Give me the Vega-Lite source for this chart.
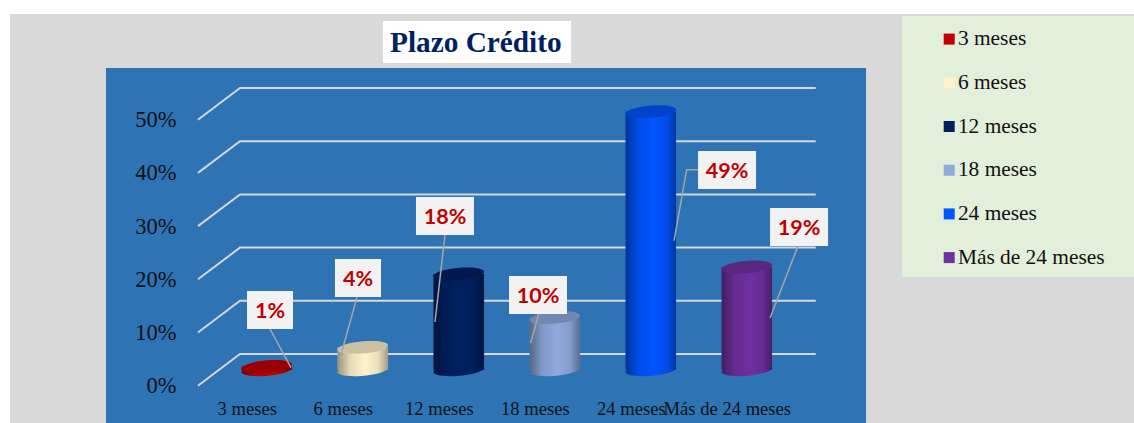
{
"$schema":"https://vega.github.io/schema/vega-lite/v6.json",
"width":1134,"height":423,"padding":0,"autosize":{"type":"none"},"background":"white",
"config":{"view":{"stroke":null}},
"title":{"text":"Plazo Crédito","anchor":"start","dx":390,"offset":-58,"font":"Liberation Serif","fontSize":29.3,"fontWeight":"bold","color":"#002060"},
"resolve":{"axis":{"x":"independent","y":"independent"}},
"datasets":{
"plazos":[
{"plazo":"3 meses","pos":1,"etiqueta":"1%","base":3,"tope":3.6,"cx":1.033,"cy":14.23,"bx0":0.794,"bx1":1.273,"by0":10.66,"by1":17.8},
{"plazo":"6 meses","pos":2,"etiqueta":"4%","base":3,"tope":7.2,"cx":1.95,"cy":20.24,"bx0":1.71,"bx1":2.19,"by0":16.67,"by1":23.82},
{"plazo":"12 meses","pos":3,"etiqueta":"18%","base":3,"tope":21,"cx":2.856,"cy":31.9,"bx0":2.554,"bx1":3.158,"by0":28.33,"by1":35.47},
{"plazo":"18 meses","pos":4,"etiqueta":"10%","base":3,"tope":12.8,"cx":3.825,"cy":17.05,"bx0":3.523,"bx1":4.127,"by0":13.48,"by1":20.62},
{"plazo":"24 meses","pos":5,"etiqueta":"49%","base":3,"tope":51.5,"cx":5.794,"cy":40.55,"bx0":5.492,"bx1":6.096,"by0":36.97,"by1":44.12},
{"plazo":"Más de 24 meses","pos":6,"etiqueta":"19%","base":3,"tope":22.3,"cx":6.544,"cy":29.83,"bx0":6.242,"bx1":6.846,"by0":26.26,"by1":33.4}
],
"rejilla":[
{"nivel":0,"x":0.283,"y":0},{"nivel":0,"x":0.721,"y":5.96},{"nivel":0,"x":6.718,"y":5.96},
{"nivel":10,"x":0.283,"y":10},{"nivel":10,"x":0.721,"y":15.96},{"nivel":10,"x":6.718,"y":15.96},
{"nivel":20,"x":0.283,"y":20},{"nivel":20,"x":0.721,"y":25.96},{"nivel":20,"x":6.718,"y":25.96},
{"nivel":30,"x":0.283,"y":30},{"nivel":30,"x":0.721,"y":35.96},{"nivel":30,"x":6.718,"y":35.96},
{"nivel":40,"x":0.283,"y":40},{"nivel":40,"x":0.721,"y":45.96},{"nivel":40,"x":6.718,"y":45.96},
{"nivel":50,"x":0.283,"y":50},{"nivel":50,"x":0.721,"y":55.96},{"nivel":50,"x":6.718,"y":55.96}
],
"guias":[
{"plazo":"3 meses","x":1.033,"y":10.66},{"plazo":"3 meses","x":1.252,"y":3.38},
{"plazo":"6 meses","x":1.94,"y":16.67},{"plazo":"6 meses","x":1.763,"y":5.21},
{"plazo":"12 meses","x":2.856,"y":28.33},{"plazo":"12 meses","x":2.752,"y":11.97},
{"plazo":"18 meses","x":3.832,"y":13.48},{"plazo":"18 meses","x":3.749,"y":8.03},
{"plazo":"24 meses","x":5.492,"y":40.6},{"plazo":"24 meses","x":5.374,"y":40.6},{"plazo":"24 meses","x":5.242,"y":27.26},
{"plazo":"Más de 24 meses","x":6.533,"y":26.26},{"plazo":"Más de 24 meses","x":6.242,"y":12.74}
]
},
"encoding":{
"x":{"field":"pos","type":"quantitative","title":null,"axis":null,"scale":{"domain":[-1.779,10.033],"nice":false,"zero":false,"padding":0}},
"y":{"field":"tope","type":"quantitative","title":null,"axis":null,"scale":{"domain":[-7.01,72.5],"nice":false,"zero":false,"padding":0}}
},
"layer":[
{"data":{"values":[{"a":-1.675,"b":10.033,"c":-7.01,"d":69.87}]},"mark":{"type":"rect","color":"#d9d9d9"},
 "encoding":{"x":{"field":"a","type":"quantitative","axis":null},"x2":{"field":"b"},"y":{"field":"c","type":"quantitative","axis":null},"y2":{"field":"d"}}},
{"data":{"values":[{"a":2.21,"b":4.169,"c":60.66,"d":68.55}]},"mark":{"type":"rect","color":"#ffffff"},
 "encoding":{"x":{"field":"a","type":"quantitative","axis":null},"x2":{"field":"b"},"y":{"field":"c","type":"quantitative","axis":null},"y2":{"field":"d"}}},
{"data":{"values":[{"a":-0.675,"b":7.242,"c":-7.01,"d":59.72}]},"mark":{"type":"rect","color":"#2e74b5"},
 "encoding":{"x":{"field":"a","type":"quantitative","axis":null},"x2":{"field":"b"},"y":{"field":"c","type":"quantitative","axis":null},"y2":{"field":"d"}}},
{"data":{"values":[{"a":7.617,"b":10.033,"c":20.43,"d":69.49}]},"mark":{"type":"rect","color":"#e2efda"},
 "encoding":{"x":{"field":"a","type":"quantitative","axis":null},"x2":{"field":"b"},"y":{"field":"c","type":"quantitative","axis":null},"y2":{"field":"d"}}},
{"data":{"name":"rejilla"},"mark":{"type":"line","color":"#d6d6d6","strokeWidth":2},
 "encoding":{"x":{"field":"x","type":"quantitative","axis":null},"y":{"field":"y","type":"quantitative","axis":null},"detail":{"field":"nivel"}}},
{"data":{"name":"plazos"},"mark":{"type":"point","filled":true,"opacity":1,"strokeWidth":0,"size":2550,"shape":"M-1,0.07A1,0.24,-5,1,1,1,-0.07A1,0.24,-5,1,1,-1,0.07Z"},
 "encoding":{"y":{"field":"base","type":"quantitative","axis":null},
 "color":{"field":"plazo","type":"nominal","sort":null,"scale":{"domain":["3 meses","6 meses","12 meses","18 meses","24 meses","Más de 24 meses"],"range":["#c00000","#fff2cc","#002060","#8faadc","#0055ff","#7030a0"]},
 "legend":{"orient":"none","legendX":938.5,"legendY":28.4,"title":null,"padding":0,"symbolType":"square","symbolSize":121,"symbolStrokeWidth":0,"symbolOpacity":1,"labelFont":"Liberation Serif","labelFontSize":21.4,"labelColor":"#111111","labelOffset":-2,"rowPadding":20.7,"labelLimit":300}}}},
{"data":{"name":"plazos"},"mark":{"type":"point","filled":true,"opacity":1,"strokeWidth":0,"size":2550,"shape":"M-1,0.07A1,0.24,-5,1,1,1,-0.07A1,0.24,-5,1,1,-1,0.07Z",
 "color":{"gradient":"linear","x1":0,"x2":1,"y1":0,"y2":0,"stops":[{"offset":0,"color":"rgba(0,0,0,0.4)"},{"offset":0.25,"color":"rgba(0,0,0,0.1)"},{"offset":0.55,"color":"rgba(0,0,0,0)"},{"offset":0.8,"color":"rgba(0,0,0,0.08)"},{"offset":1,"color":"rgba(0,0,0,0.36)"}]}},
 "encoding":{"y":{"field":"base","type":"quantitative","axis":null}}},
{"data":{"name":"plazos"},"mark":{"type":"bar","width":50.5},
 "encoding":{
 "x":{"field":"pos","type":"quantitative","title":null,
 "axis":{"orient":"bottom","values":[1,2,3,4,5,6],"labelExpr":"['3 meses','6 meses','12 meses','18 meses','24 meses','Más de 24 meses'][datum.value-1]","grid":false,"domain":false,"ticks":false,"offset":-27,"labelPadding":3,"labelOffset":-20,"labelFlush":false,"labelOverlap":false,"labelBound":false,"labelFont":"Liberation Serif","labelFontSize":18.6,"labelColor":"#111111","zindex":1}},
 "y":{"field":"tope","type":"quantitative","title":null,
 "axis":{"orient":"left","values":[0,10,20,30,40,50],"labelExpr":"datum.value+'%'","grid":false,"domain":false,"ticks":false,"offset":-176,"labelPadding":0,"labelOffset":0,"labelFlush":false,"labelOverlap":false,"labelBound":false,"labelFont":"Liberation Serif","labelFontSize":22.5,"labelColor":"#111111","zindex":1}},
 "y2":{"field":"base"},"color":{"field":"plazo","type":"nominal","sort":null,"legend":null}}},
{"data":{"name":"plazos"},"mark":{"type":"bar","width":50.5,
 "color":{"gradient":"linear","x1":0,"x2":1,"y1":0,"y2":0,"stops":[{"offset":0,"color":"rgba(0,0,0,0.4)"},{"offset":0.25,"color":"rgba(0,0,0,0.1)"},{"offset":0.55,"color":"rgba(0,0,0,0)"},{"offset":0.8,"color":"rgba(0,0,0,0.08)"},{"offset":1,"color":"rgba(0,0,0,0.36)"}]}},
 "encoding":{"y2":{"field":"base"}}},
{"data":{"name":"plazos"},"mark":{"type":"point","filled":true,"opacity":1,"strokeWidth":0,"size":2550,"shape":"M-1,0.07A1,0.24,-5,1,1,1,-0.07A1,0.24,-5,1,1,-1,0.07Z"},
 "encoding":{"color":{"field":"plazo","type":"nominal","sort":null,"legend":null}}},
{"data":{"name":"plazos"},"mark":{"type":"point","filled":true,"opacity":0.2,"strokeWidth":0,"size":2550,"color":"#000000","shape":"M-1,0.07A1,0.24,-5,1,1,1,-0.07A1,0.24,-5,1,1,-1,0.07Z"},
 "encoding":{}},
{"data":{"name":"guias"},"mark":{"type":"line","color":"#a6a6a6","strokeWidth":1.5},
 "encoding":{"x":{"field":"x","type":"quantitative","axis":null},"y":{"field":"y","type":"quantitative","axis":null},"detail":{"field":"plazo"}}},
{"data":{"name":"plazos"},"mark":{"type":"rect","color":"#f2f2f2"},
 "encoding":{"x":{"field":"bx0","type":"quantitative","axis":null},"x2":{"field":"bx1"},"y":{"field":"by0","type":"quantitative","axis":null},"y2":{"field":"by1"}}},
{"data":{"name":"plazos"},"mark":{"type":"text","font":"Lato","fontWeight":"bold","fontSize":21.5,"color":"#c00000","align":"center","baseline":"middle","dy":2},
 "encoding":{"x":{"field":"cx","type":"quantitative","axis":null},"y":{"field":"cy","type":"quantitative","axis":null},"text":{"field":"etiqueta"}}}
]
}
